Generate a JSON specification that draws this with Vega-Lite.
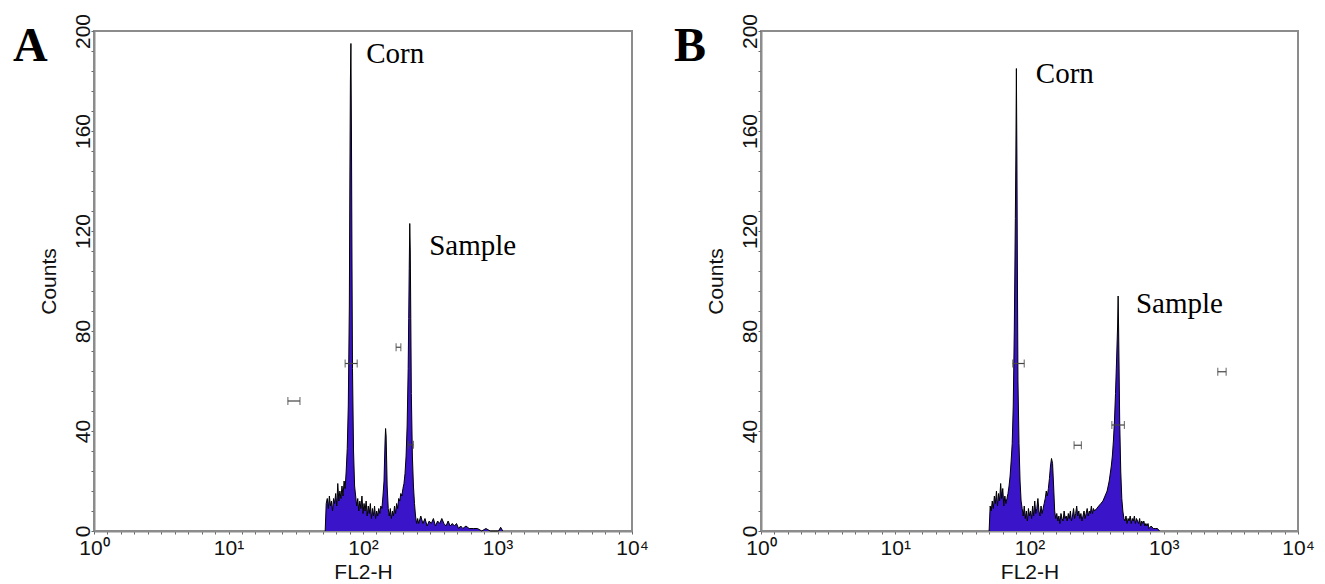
{
  "$schema": "https://vega.github.io/schema/vega-lite/v6.json",
  "background": "white",
  "padding": {"left": 12, "top": 12, "right": 5, "bottom": 0},
  "spacing": 22,
  "config": {
    "view": {"stroke": "#8c8c8c", "strokeWidth": 2},
    "axis": {
      "grid": false,
      "domainColor": "#8c8c8c",
      "domainWidth": 2,
      "tickColor": "#666666",
      "tickSize": 3,
      "labelFont": "Liberation Sans",
      "titleFont": "Liberation Sans",
      "labelColor": "#111111",
      "titleColor": "#111111",
      "titleFontWeight": "normal",
      "labelFontSize": 21,
      "titleFontSize": 21,
      "labelOverlap": false,
      "labelFlush": false
    }
  },
  "datasets": {
    "histA": [
      {"channel": 440, "count": 0}, {"channel": 442, "count": 11}, {"channel": 444, "count": 13}, {"channel": 446, "count": 9},
      {"channel": 448, "count": 14}, {"channel": 450, "count": 10}, {"channel": 452, "count": 12}, {"channel": 454, "count": 8},
      {"channel": 456, "count": 13}, {"channel": 458, "count": 11}, {"channel": 460, "count": 15}, {"channel": 462, "count": 10},
      {"channel": 464, "count": 19}, {"channel": 466, "count": 12}, {"channel": 468, "count": 16}, {"channel": 470, "count": 13},
      {"channel": 472, "count": 18}, {"channel": 474, "count": 14}, {"channel": 476, "count": 20}, {"channel": 478, "count": 17},
      {"channel": 480, "count": 24}, {"channel": 482, "count": 33}, {"channel": 484, "count": 50}, {"channel": 486, "count": 90},
      {"channel": 487, "count": 140}, {"channel": 488, "count": 180}, {"channel": 489, "count": 195}, {"channel": 490, "count": 160},
      {"channel": 491, "count": 110}, {"channel": 492, "count": 65}, {"channel": 494, "count": 32}, {"channel": 496, "count": 18},
      {"channel": 498, "count": 14}, {"channel": 500, "count": 10}, {"channel": 502, "count": 13}, {"channel": 504, "count": 8},
      {"channel": 506, "count": 12}, {"channel": 508, "count": 9}, {"channel": 510, "count": 14}, {"channel": 512, "count": 7},
      {"channel": 514, "count": 11}, {"channel": 516, "count": 8}, {"channel": 518, "count": 12}, {"channel": 520, "count": 6},
      {"channel": 522, "count": 10}, {"channel": 524, "count": 7}, {"channel": 526, "count": 11}, {"channel": 528, "count": 5},
      {"channel": 530, "count": 9}, {"channel": 532, "count": 6}, {"channel": 534, "count": 10}, {"channel": 536, "count": 5},
      {"channel": 538, "count": 8}, {"channel": 540, "count": 6}, {"channel": 542, "count": 9}, {"channel": 544, "count": 7},
      {"channel": 546, "count": 10}, {"channel": 548, "count": 9}, {"channel": 550, "count": 14}, {"channel": 552, "count": 20},
      {"channel": 553, "count": 28}, {"channel": 554, "count": 36}, {"channel": 555, "count": 41}, {"channel": 556, "count": 38},
      {"channel": 557, "count": 28}, {"channel": 558, "count": 18}, {"channel": 560, "count": 9}, {"channel": 562, "count": 6},
      {"channel": 564, "count": 9}, {"channel": 566, "count": 5}, {"channel": 568, "count": 8}, {"channel": 570, "count": 6},
      {"channel": 572, "count": 10}, {"channel": 574, "count": 7}, {"channel": 576, "count": 11}, {"channel": 578, "count": 9},
      {"channel": 580, "count": 13}, {"channel": 582, "count": 12}, {"channel": 584, "count": 15}, {"channel": 586, "count": 14},
      {"channel": 588, "count": 17}, {"channel": 590, "count": 19}, {"channel": 592, "count": 23}, {"channel": 594, "count": 30},
      {"channel": 596, "count": 42}, {"channel": 598, "count": 65}, {"channel": 599, "count": 85}, {"channel": 600, "count": 105},
      {"channel": 601, "count": 123}, {"channel": 602, "count": 112}, {"channel": 603, "count": 85}, {"channel": 604, "count": 55},
      {"channel": 606, "count": 30}, {"channel": 608, "count": 18}, {"channel": 610, "count": 11}, {"channel": 612, "count": 6},
      {"channel": 614, "count": 3}, {"channel": 616, "count": 5}, {"channel": 618, "count": 3}, {"channel": 622, "count": 6},
      {"channel": 626, "count": 3}, {"channel": 630, "count": 5}, {"channel": 634, "count": 2}, {"channel": 638, "count": 4},
      {"channel": 642, "count": 3}, {"channel": 646, "count": 5}, {"channel": 650, "count": 2}, {"channel": 654, "count": 4},
      {"channel": 658, "count": 3}, {"channel": 662, "count": 5}, {"channel": 666, "count": 3}, {"channel": 670, "count": 2},
      {"channel": 674, "count": 4}, {"channel": 678, "count": 2}, {"channel": 682, "count": 3}, {"channel": 686, "count": 2},
      {"channel": 690, "count": 3}, {"channel": 694, "count": 1}, {"channel": 698, "count": 2}, {"channel": 702, "count": 1},
      {"channel": 708, "count": 2}, {"channel": 714, "count": 1}, {"channel": 722, "count": 1}, {"channel": 730, "count": 1},
      {"channel": 738, "count": 0}, {"channel": 746, "count": 1}, {"channel": 754, "count": 0}, {"channel": 770, "count": 0},
      {"channel": 774, "count": 1.5}, {"channel": 778, "count": 0}
    ],
    "histB": [
      {"channel": 435, "count": 0}, {"channel": 437, "count": 10}, {"channel": 439, "count": 8}, {"channel": 441, "count": 12},
      {"channel": 443, "count": 9}, {"channel": 445, "count": 14}, {"channel": 447, "count": 11}, {"channel": 449, "count": 16},
      {"channel": 451, "count": 10}, {"channel": 453, "count": 15}, {"channel": 455, "count": 12}, {"channel": 457, "count": 19},
      {"channel": 459, "count": 13}, {"channel": 461, "count": 17}, {"channel": 463, "count": 10}, {"channel": 465, "count": 14},
      {"channel": 467, "count": 11}, {"channel": 469, "count": 13}, {"channel": 471, "count": 15}, {"channel": 473, "count": 18},
      {"channel": 475, "count": 22}, {"channel": 477, "count": 28}, {"channel": 479, "count": 35}, {"channel": 481, "count": 50},
      {"channel": 483, "count": 80}, {"channel": 485, "count": 125}, {"channel": 486, "count": 150}, {"channel": 487, "count": 185},
      {"channel": 488, "count": 150}, {"channel": 489, "count": 100}, {"channel": 490, "count": 60}, {"channel": 492, "count": 35},
      {"channel": 494, "count": 20}, {"channel": 496, "count": 12}, {"channel": 498, "count": 9}, {"channel": 500, "count": 6},
      {"channel": 502, "count": 10}, {"channel": 504, "count": 5}, {"channel": 506, "count": 8}, {"channel": 508, "count": 4},
      {"channel": 510, "count": 9}, {"channel": 512, "count": 6}, {"channel": 514, "count": 8}, {"channel": 516, "count": 5},
      {"channel": 518, "count": 10}, {"channel": 520, "count": 6}, {"channel": 522, "count": 12}, {"channel": 524, "count": 7},
      {"channel": 526, "count": 9}, {"channel": 528, "count": 13}, {"channel": 530, "count": 8}, {"channel": 532, "count": 6},
      {"channel": 534, "count": 10}, {"channel": 536, "count": 7}, {"channel": 538, "count": 9}, {"channel": 540, "count": 11},
      {"channel": 542, "count": 13}, {"channel": 544, "count": 16}, {"channel": 546, "count": 14}, {"channel": 548, "count": 17},
      {"channel": 550, "count": 21}, {"channel": 552, "count": 26}, {"channel": 554, "count": 29}, {"channel": 556, "count": 27},
      {"channel": 558, "count": 18}, {"channel": 560, "count": 8}, {"channel": 562, "count": 5}, {"channel": 564, "count": 7},
      {"channel": 566, "count": 4}, {"channel": 568, "count": 6}, {"channel": 570, "count": 3}, {"channel": 572, "count": 7},
      {"channel": 574, "count": 5}, {"channel": 576, "count": 4}, {"channel": 578, "count": 8}, {"channel": 580, "count": 5},
      {"channel": 582, "count": 6}, {"channel": 584, "count": 4}, {"channel": 586, "count": 7}, {"channel": 588, "count": 5},
      {"channel": 590, "count": 8}, {"channel": 592, "count": 4}, {"channel": 594, "count": 6}, {"channel": 596, "count": 9},
      {"channel": 598, "count": 5}, {"channel": 600, "count": 7}, {"channel": 602, "count": 10}, {"channel": 604, "count": 6},
      {"channel": 606, "count": 8}, {"channel": 608, "count": 5}, {"channel": 610, "count": 7}, {"channel": 612, "count": 4},
      {"channel": 614, "count": 6}, {"channel": 616, "count": 8}, {"channel": 618, "count": 5}, {"channel": 620, "count": 7},
      {"channel": 622, "count": 9}, {"channel": 624, "count": 6}, {"channel": 626, "count": 8}, {"channel": 628, "count": 7},
      {"channel": 630, "count": 10}, {"channel": 632, "count": 7}, {"channel": 634, "count": 9}, {"channel": 636, "count": 8},
      {"channel": 640, "count": 9}, {"channel": 644, "count": 10}, {"channel": 648, "count": 11}, {"channel": 652, "count": 12},
      {"channel": 656, "count": 14}, {"channel": 660, "count": 16}, {"channel": 664, "count": 20}, {"channel": 668, "count": 26},
      {"channel": 670, "count": 30}, {"channel": 672, "count": 36}, {"channel": 674, "count": 44}, {"channel": 676, "count": 55},
      {"channel": 678, "count": 68}, {"channel": 680, "count": 82}, {"channel": 681, "count": 94}, {"channel": 682, "count": 80},
      {"channel": 683, "count": 62}, {"channel": 684, "count": 44}, {"channel": 686, "count": 24}, {"channel": 688, "count": 13},
      {"channel": 690, "count": 8}, {"channel": 692, "count": 5}, {"channel": 694, "count": 4}, {"channel": 696, "count": 6},
      {"channel": 698, "count": 3}, {"channel": 700, "count": 5}, {"channel": 702, "count": 4}, {"channel": 704, "count": 6},
      {"channel": 706, "count": 3}, {"channel": 708, "count": 5}, {"channel": 710, "count": 4}, {"channel": 712, "count": 6},
      {"channel": 714, "count": 3}, {"channel": 716, "count": 5}, {"channel": 718, "count": 4}, {"channel": 720, "count": 3},
      {"channel": 722, "count": 5}, {"channel": 724, "count": 2}, {"channel": 726, "count": 4}, {"channel": 728, "count": 3},
      {"channel": 730, "count": 4}, {"channel": 732, "count": 2}, {"channel": 734, "count": 3}, {"channel": 736, "count": 2},
      {"channel": 738, "count": 3}, {"channel": 740, "count": 1}, {"channel": 744, "count": 2}, {"channel": 748, "count": 1},
      {"channel": 752, "count": 1}, {"channel": 756, "count": 1}, {"channel": 760, "count": 0}
    ],
    "gatesA": [
      {"channel": 369, "hi": 392, "count": 52},
      {"channel": 478, "hi": 501, "count": 67},
      {"channel": 575, "hi": 584, "count": 73.5},
      {"channel": 598, "hi": 608, "count": 34.5}
    ],
    "gatesB": [
      {"channel": 480, "hi": 502, "count": 67},
      {"channel": 597, "hi": 611, "count": 34.3},
      {"channel": 669, "hi": 693, "count": 42.4},
      {"channel": 871, "hi": 887, "count": 63.7}
    ],
    "labelsA": [
      {"channel": 518, "count": 191, "label": "Corn"},
      {"channel": 638, "count": 114, "label": "Sample"}
    ],
    "labelsB": [
      {"channel": 524, "count": 183, "label": "Corn"},
      {"channel": 715, "count": 91, "label": "Sample"}
    ],
    "letterA": [{"channel": -154, "count": 188, "label": "A"}],
    "letterB": [{"channel": -166, "count": 188, "label": "B"}]
  },
  "hconcat": [
    {
      "width": 538,
      "height": 500,
      "encoding": {
        "x": {"field": "channel", "type": "quantitative", "scale": {"domain": [0, 1024], "nice": false, "zero": false},
          "axis": {"title": "FL2-H", "values": [0, 25.6, 51.2, 76.8, 102.4, 128, 153.6, 179.2, 204.8, 230.4, 256, 281.6, 307.2, 332.8, 358.4, 384, 409.6, 435.2, 460.8, 486.4, 512, 537.6, 563.2, 588.8, 614.4, 640, 665.6, 691.2, 716.8, 742.4, 768, 793.6, 819.2, 844.8, 870.4, 896, 921.6, 947.2, 972.8, 998.4, 1024],
            "labelExpr": "datum.value == 0 ? '10⁰' : datum.value == 256 ? '10¹' : datum.value == 512 ? '10²' : datum.value == 768 ? '10³' : datum.value == 1024 ? '10⁴' : ''",
            "labelFontSize": 21, "labelOverlap": false, "labelFlush": false, "labelPadding": 3, "titlePadding": 3}},
        "y": {"field": "count", "type": "quantitative", "scale": {"domain": [0, 200], "nice": false},
          "axis": {"title": "Counts", "values": [0, 8, 16, 24, 32, 40, 48, 56, 64, 72, 80, 88, 96, 104, 112, 120, 128, 136, 144, 152, 160, 168, 176, 184, 192, 200],
            "labelExpr": "datum.value % 40 == 0 ? datum.label : ''", "labelAngle": -90, "labelAlign": "center", "labelBaseline": "alphabetic", "labelPadding": 2, "labelOverlap": false, "labelFlush": false, "titlePadding": 13}}
      },
      "layer": [
        {"data": {"name": "histA"}, "mark": {"type": "area", "color": "#3a14c8", "interpolate": "linear"}},
        {"data": {"name": "histA"}, "mark": {"type": "line", "color": "#000000", "strokeWidth": 1, "interpolate": "linear"}},
        {"data": {"name": "gatesA"}, "mark": {"type": "errorbar", "ticks": {"size": 8}, "color": "#444444", "thickness": 1.2}, "encoding": {"x2": {"field": "hi"}}},
        {"data": {"name": "labelsA"}, "mark": {"type": "text", "align": "left", "baseline": "middle", "font": "Liberation Serif", "fontSize": 29, "color": "#000000"}, "encoding": {"text": {"field": "label"}}},
        {"data": {"name": "letterA"}, "mark": {"type": "text", "align": "left", "baseline": "alphabetic", "font": "Liberation Serif", "fontSize": 48, "fontWeight": "bold", "color": "#000000", "clip": false}, "encoding": {"text": {"field": "label"}}}
      ]
    },
    {
      "width": 537,
      "height": 500,
      "encoding": {
        "x": {"field": "channel", "type": "quantitative", "scale": {"domain": [0, 1024], "nice": false, "zero": false},
          "axis": {"title": "FL2-H", "values": [0, 25.6, 51.2, 76.8, 102.4, 128, 153.6, 179.2, 204.8, 230.4, 256, 281.6, 307.2, 332.8, 358.4, 384, 409.6, 435.2, 460.8, 486.4, 512, 537.6, 563.2, 588.8, 614.4, 640, 665.6, 691.2, 716.8, 742.4, 768, 793.6, 819.2, 844.8, 870.4, 896, 921.6, 947.2, 972.8, 998.4, 1024],
            "labelExpr": "datum.value == 0 ? '10⁰' : datum.value == 256 ? '10¹' : datum.value == 512 ? '10²' : datum.value == 768 ? '10³' : datum.value == 1024 ? '10⁴' : ''",
            "labelFontSize": 21, "labelOverlap": false, "labelFlush": false, "labelPadding": 3, "titlePadding": 3}},
        "y": {"field": "count", "type": "quantitative", "scale": {"domain": [0, 200], "nice": false},
          "axis": {"title": "Counts", "values": [0, 8, 16, 24, 32, 40, 48, 56, 64, 72, 80, 88, 96, 104, 112, 120, 128, 136, 144, 152, 160, 168, 176, 184, 192, 200],
            "labelExpr": "datum.value % 40 == 0 ? datum.label : ''", "labelAngle": -90, "labelAlign": "center", "labelBaseline": "alphabetic", "labelPadding": 2, "labelOverlap": false, "labelFlush": false, "titlePadding": 13}}
      },
      "layer": [
        {"data": {"name": "histB"}, "mark": {"type": "area", "color": "#3a14c8", "interpolate": "linear"}},
        {"data": {"name": "histB"}, "mark": {"type": "line", "color": "#000000", "strokeWidth": 1, "interpolate": "linear"}},
        {"data": {"name": "gatesB"}, "mark": {"type": "errorbar", "ticks": {"size": 8}, "color": "#444444", "thickness": 1.2}, "encoding": {"x2": {"field": "hi"}}},
        {"data": {"name": "labelsB"}, "mark": {"type": "text", "align": "left", "baseline": "middle", "font": "Liberation Serif", "fontSize": 29, "color": "#000000"}, "encoding": {"text": {"field": "label"}}},
        {"data": {"name": "letterB"}, "mark": {"type": "text", "align": "left", "baseline": "alphabetic", "font": "Liberation Serif", "fontSize": 48, "fontWeight": "bold", "color": "#000000", "clip": false}, "encoding": {"text": {"field": "label"}}}
      ]
    }
  ]
}
